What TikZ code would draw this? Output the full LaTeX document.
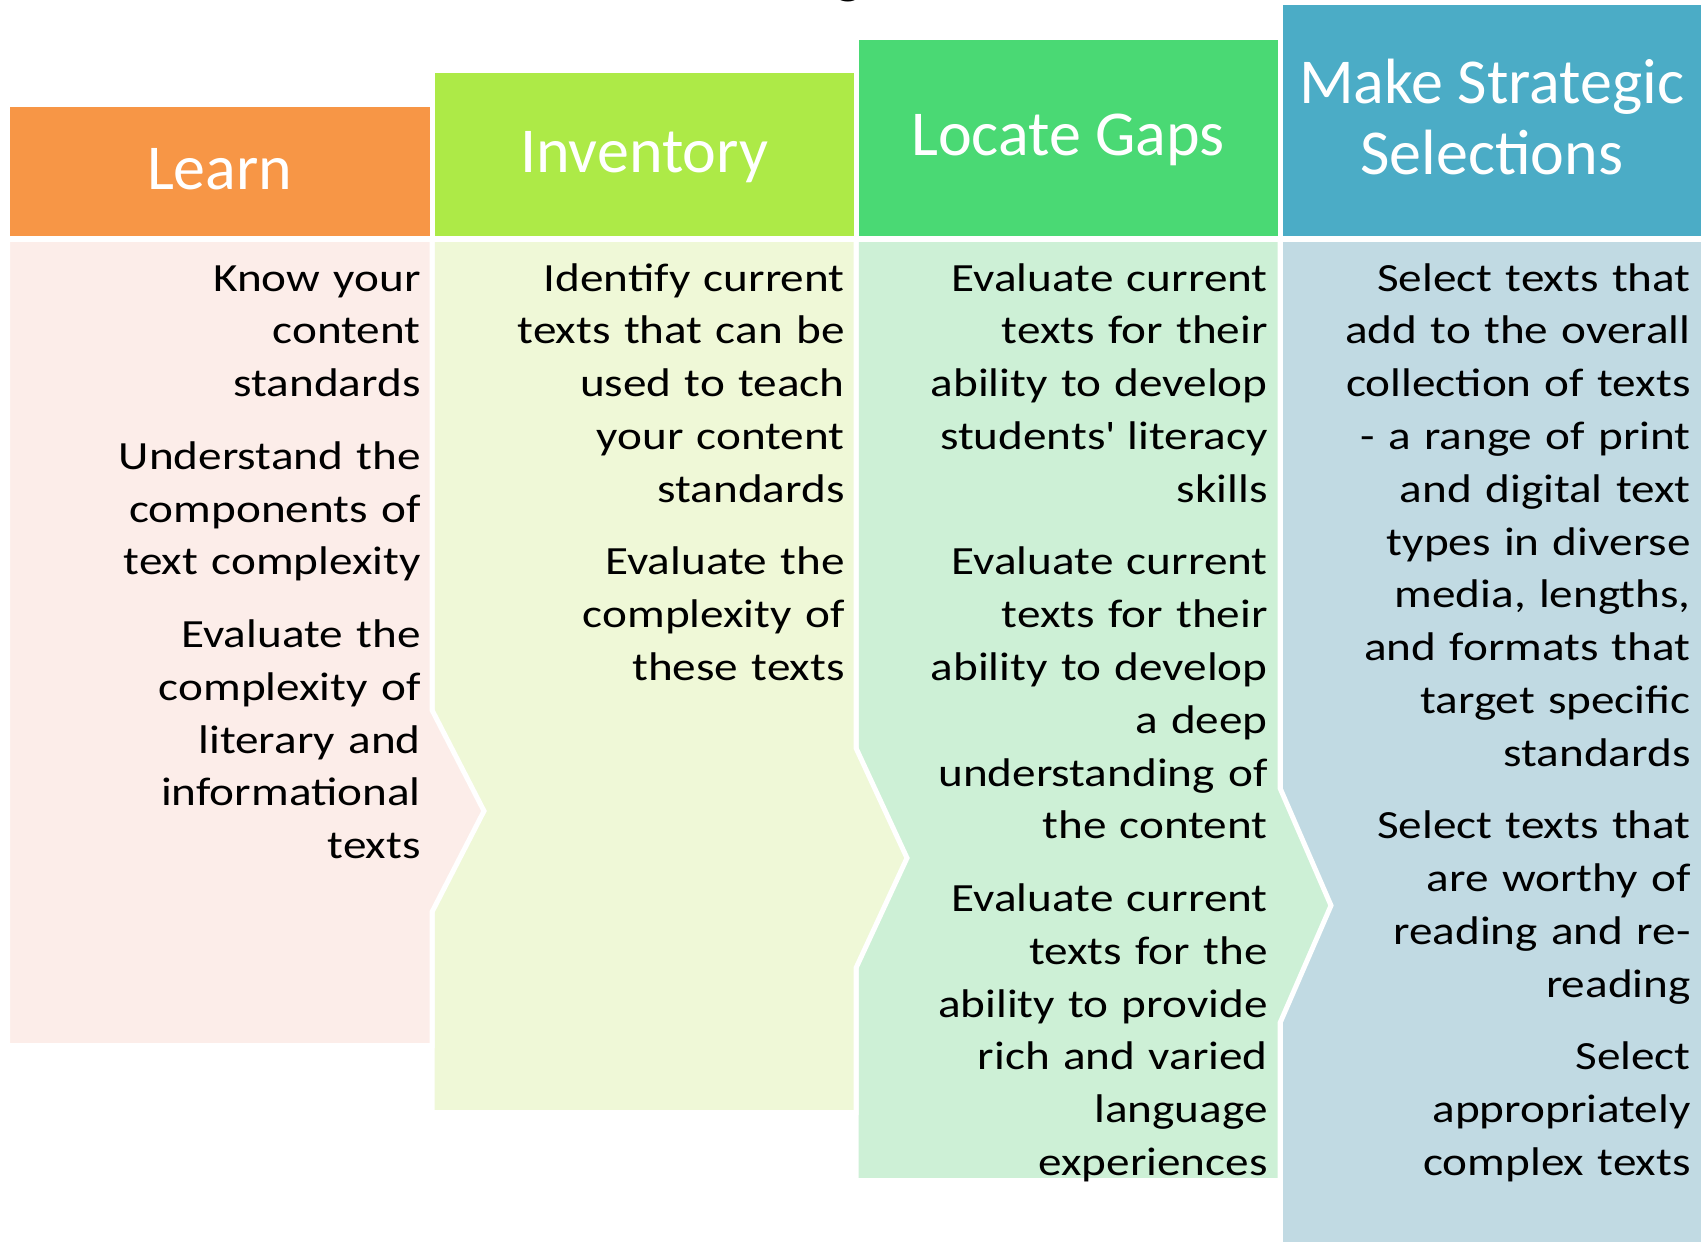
\documentclass[tikz,border=0pt]{standalone}
\usepackage{fontspec}
\setmainfont{Carlito}
\newfontfamily\headfont{Carlito}
\newfontfamily\bodyfont[FakeStretch=1.18]{Carlito}

\definecolor{learnHead}{HTML}{F79646}
\definecolor{learnBody}{HTML}{FCEDE9}
\definecolor{invHead}{HTML}{ADEA47}
\definecolor{invBody}{HTML}{EFF8D7}
\definecolor{gapHead}{HTML}{4AD974}
\definecolor{gapBody}{HTML}{CDF0D6}
\definecolor{makeHead}{HTML}{4BACC6}
\definecolor{makeBody}{HTML}{C1DAE3}

\tikzset{
  bodyshape/.style={draw=white, line width=2.5pt, miter limit=10},
  headtxt/.style={inner sep=0pt, text=white, anchor=base,
    font=\headfont\fontsize{32pt}{35.5pt}\selectfont},
  bodytxt/.style={inner sep=0pt, anchor=north east, align=right, text width=205pt,
    font=\bodyfont\fontsize{20pt}{26.4pt}\selectfont},
}
\newcommand{\pgap}{\\[9.9pt]}

\begin{document}
\begin{tikzpicture}[x=0.5pt,y=-0.5pt]
\useasboundingbox (0,0) rectangle (1701,1241);

% tail of the title line above the columns
\node[inner sep=0pt, anchor=base, font=\headfont\bfseries\fontsize{28pt}{32pt}\selectfont] (title) at (849,-7.5) {g};

% column heads
\fill[learnHead] (10,107) rectangle (429.5,236);
\fill[invHead] (435,73) rectangle (853.5,236);
\fill[gapHead] (858.5,40) rectangle (1277.5,236.5);
\fill[makeHead] (1282.5,5) rectangle (1701,236);

% column bodies, drawn right to left so each point lies on the next column
\path[bodyshape, fill=makeBody] (1280,239.5) rectangle (1705,1245);
\path[bodyshape, fill=gapBody] (856,239.5) -- (1280,239.5) -- (1280,788) -- (1331,905.5)
  -- (1280,1023) -- (1280,1180.5) -- (856,1180.5) -- cycle;
\path[bodyshape, fill=invBody] (432,239.5) -- (856,239.5) -- (856,748) -- (907,858)
  -- (856,968) -- (856,1112.5) -- (432,1112.5) -- cycle;
\path[bodyshape, fill=learnBody] (7.5,239.5) -- (432,239.5) -- (432,710) -- (484,811)
  -- (432,912) -- (432,1045.5) -- (7.5,1045.5) -- cycle;

% head labels
\node[headtxt] (hLearn) at (219.75,189.3) {Learn};
\node[headtxt] (hInv) at (644.25,172.7) {Inventory};
\node[headtxt] (hGap) at (1068,156) {Locate Gaps};
\node[headtxt, anchor=north, align=center] (hMake) at (1491.75,53.6)
  {\strut Make Strategic\\Selections};

% body texts
\node[bodytxt] (tLearn) at (421,253.7) {\strut Know your\\content\\standards\pgap
  Understand the\\components of\\text complexity\pgap
  Evaluate the\\complexity of\\literary and\\informational\\texts};
\node[bodytxt] (tInv) at (845,253.7) {\strut Identify current\\texts that can be\\used to teach\\your content\\standards\pgap
  Evaluate the\\complexity of\\these texts};
\node[bodytxt] (tGap) at (1268,253.7) {\strut Evaluate current\\texts for their\\ability to develop\\students\textquotesingle\ literacy\\skills\pgap
  Evaluate current\\texts for their\\ability to develop\\a deep\\understanding of\\the content\pgap
  Evaluate current\\texts for the\\ability to provide\\rich and varied\\language\\experiences};
\node[bodytxt] (tMake) at (1691,253.7) {\strut Select texts that\\add to the overall\\collection of texts\\- a range of print\\and digital text\\types in diverse\\media, lengths,\\and formats that\\target specific\\standards\pgap
  Select texts that\\are worthy of\\reading and re-\\reading\pgap
  Select\\appropriately\\complex texts};
\end{tikzpicture}
\end{document}
